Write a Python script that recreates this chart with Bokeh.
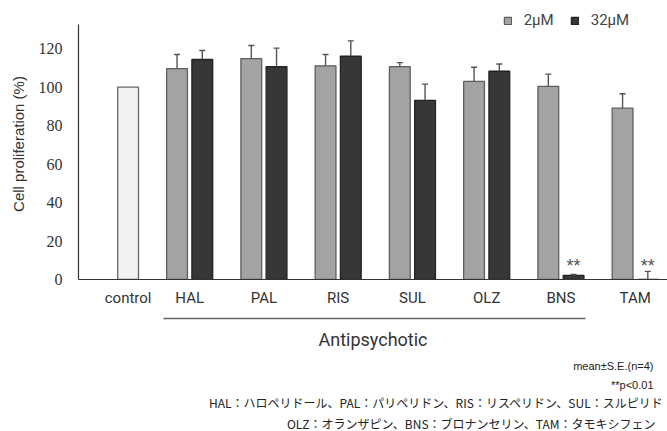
from bokeh.plotting import figure
from bokeh.models import (ColumnDataSource, Whisker, TeeHead, Label, Legend, LegendItem,
                          FixedTicker, LinearAxis, Range1d, Title)
from bokeh.embed import file_html
from bokeh.resources import INLINE

# ---------------- data ----------------
categories = ["HAL", "PAL", "RIS", "SUL", "OLZ", "BNS", "TAM"]
control_label = "control"
control_value = 100.0
low_vals = [109.6, 114.8, 111.0, 110.6, 102.9, 100.3, 89.0]      # 2 uM
low_errs = [7.3, 6.8, 5.9, 2.1, 7.4, 6.4, 7.5]
high_vals = [114.3, 110.6, 116.0, 93.1, 108.2, 2.1, 0.0]         # 32 uM
high_errs = [4.7, 9.6, 8.0, 8.4, 3.8, 0.5, 4.2]
high_sig = ["", "", "", "", "", "**", "**"]
y_ticks = [0, 20, 40, 60, 80, 100, 120]
legend_labels = ["2μM", "32μM"]
axis_title = "Cell proliferation (%)"
group_title = "Antipsychotic"
group_members = ["HAL", "PAL", "RIS", "SUL", "OLZ", "BNS"]
note_stats = "mean±S.E.(n=4)"
note_sig = "**p<0.01"
note_abbrev = ["HAL：ハロペリドール、PAL：パリペリドン、RIS：リスペリドン、SUL：スルピリド",
               "OLZ：オランザピン、BNS：ブロナンセリン、TAM：タモキシフェン"]

# ---------------- layout / style ----------------
W, H = 667, 431
BAR_W = 0.28
OFF = 0.17
CONTROL_X = 0.171
SIG_Y = 7.0
Y_AXIS_TOP = 132.5
Y_VIEW_TOP = 140.8
C_LOW = "#a3a3a3"
C_HIGH = "#383737"
C_CTRL = "#f2f2f2"
TXT = "#333333"

xs = list(range(1, len(categories) + 1))
x_low = [x - OFF for x in xs]
x_high = [x + OFF for x in xs]

p = figure(width=W, height=H, output_backend="svg", toolbar_location=None,
           x_range=Range1d(-0.497, 7.435), y_range=Range1d(0, Y_VIEW_TOP),
           min_border_left=78, min_border_right=0, min_border_top=8,
           min_border_bottom=152)
p.outline_line_color = None
p.xgrid.visible = False
p.ygrid.visible = False
p.background_fill_color = "white"
p.border_fill_color = "white"

# bars
p.vbar(x=[CONTROL_X], top=[control_value], width=BAR_W, bottom=0,
       fill_color=C_CTRL, line_color="#666666", line_width=1.3)
src_low = ColumnDataSource(dict(x=x_low, top=low_vals,
                                upper=[v + e for v, e in zip(low_vals, low_errs)]))
src_high = ColumnDataSource(dict(x=x_high, top=high_vals,
                                 upper=[v + e for v, e in zip(high_vals, high_errs)]))
r_low = p.vbar(x="x", top="top", width=BAR_W, bottom=0, source=src_low,
               fill_color=C_LOW, line_color="#5e5e5e", line_width=1.3)
r_high = p.vbar(x="x", top="top", width=BAR_W, bottom=0, source=src_high,
                fill_color=C_HIGH, line_color="#222222", line_width=1.3)

for src in (src_low, src_high):
    w = Whisker(base="x", lower="top", upper="upper", source=src, dimension="height",
                line_color="#555555", line_width=1.4, lower_head=None,
                upper_head=TeeHead(size=6, line_color="#555555", line_width=1.4),
                level="overlay")
    p.add_layout(w)

for xh, s in zip(x_high, high_sig):
    if s:
        p.add_layout(Label(x=xh, y=SIG_Y, text=s, text_align="center",
                           text_baseline="middle", text_font="Liberation Sans",
                           text_font_size="18px", text_color="#555555"))

# y axis
ya = p.yaxis[0]
ya.ticker = FixedTicker(ticks=y_ticks)
ya.bounds = (0, Y_AXIS_TOP)
ya.minor_tick_line_color = None
ya.major_tick_out = 0
ya.major_tick_in = 0
ya.major_label_standoff = 16
ya.major_label_text_font = "Liberation Serif"
ya.major_label_text_font_size = "16px"
ya.major_label_text_color = TXT
ya.axis_line_color = TXT
ya.axis_line_width = 1.2
ya.axis_label = axis_title
ya.axis_label_text_font = "Liberation Sans"
ya.axis_label_text_font_size = "15px"
ya.axis_label_text_font_style = "normal"
ya.axis_label_text_color = TXT
ya.axis_label_standoff = 9

# x axis with category labels
xa = p.xaxis[0]
xa.ticker = FixedTicker(ticks=[CONTROL_X] + xs)
overrides = {CONTROL_X: control_label}
for x, c in zip(xs, categories):
    overrides[x] = c
xa.major_label_overrides = overrides
xa.minor_tick_line_color = None
xa.major_tick_out = 0
xa.major_tick_in = 0
xa.major_label_standoff = 9
xa.major_label_text_font = "Roboto"
xa.major_label_text_font_size = "15px"
xa.major_label_text_color = TXT
xa.axis_line_color = TXT
xa.axis_line_width = 1.2
xa.axis_label = " "
xa.axis_label_text_font_size = "6px"
xa.axis_label_standoff = 0

# bracket axis for the antipsychotic group
i0 = categories.index(group_members[0]) + 1
i1 = categories.index(group_members[-1]) + 1
ax2 = LinearAxis(ticker=FixedTicker(ticks=[]),
                 bounds=(i0 - OFF - BAR_W / 2 - 0.045, i1 + OFF + BAR_W / 2 + 0.02),
                 axis_label=group_title, axis_label_standoff=10,
                 axis_label_text_font="Roboto", axis_label_text_font_size="18px",
                 axis_label_text_font_style="normal", axis_label_text_color=TXT,
                 axis_line_color="#666666", axis_line_width=1.5,
                 major_tick_out=0, major_tick_in=0, minor_tick_out=0, minor_tick_in=0)
p.add_layout(ax2, "below")

# footnotes as titles below (one line each)
notes = [(note_stats, 14, 10, "Liberation Sans", "11px", 1.2),
         (note_sig, 14, 0, "Liberation Sans", "11px", 0.7),
         (note_abbrev[0], 4, 3, "Noto Sans CJK JP", "12px", 1.2),
         (note_abbrev[1], 12, 0, "Noto Sans CJK JP", "12px", 1.2)]
for t, off, so, fnt, fs, lh in notes:
    p.add_layout(Title(text=t, align="right", offset=off, standoff=so,
                       text_font=fnt, text_font_size=fs, text_line_height=lh,
                       text_font_style="normal", text_color="#222222"), "below")

# legend (inside the frame, above the end of the y axis)
legend = Legend(items=[LegendItem(label=legend_labels[0], renderers=[r_low]),
                       LegendItem(label=legend_labels[1], renderers=[r_high])],
                location=(424.7, 250), orientation="horizontal",
                glyph_width=9, glyph_height=9, label_standoff=12, spacing=16,
                padding=0, margin=0, border_line_color=None,
                background_fill_alpha=0, label_text_font="Roboto",
                label_text_font_size="15px", label_text_color="#444444",
                label_height=18)
p.add_layout(legend)

open("out.html", "w").write(file_html(p, INLINE))
